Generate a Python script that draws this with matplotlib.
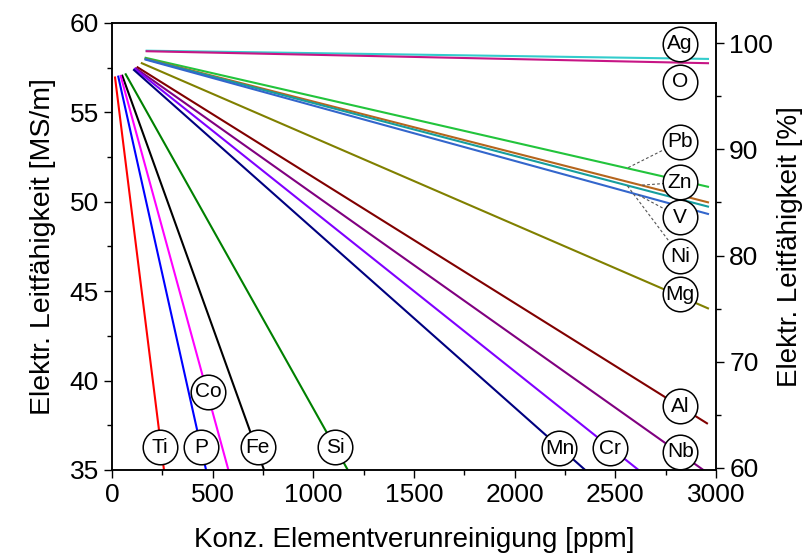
import matplotlib.pyplot as plt
from matplotlib.ticker import MultipleLocator

plt.rcParams['font.family'] = ['Liberation Sans', 'DejaVu Sans']

# Element data: start point (ppm, MS/m) and end point of each line
elements = ['Ag', 'O', 'Pb', 'Zn', 'Ni', 'V', 'Mg', 'Al', 'Nb', 'Cr', 'Mn', 'Si', 'Fe', 'Co', 'P', 'Ti']
colors = ['#33CCCC', '#C71585', '#22C43C', '#B5651D', '#169E9E', '#3366CC', '#808000', '#800000',
          '#800080', '#8000FF', '#000080', '#008000', '#000000', '#FF00FF', '#0000FF', '#FF0000']
start_ppm = [172, 172, 167, 167, 167, 167, 148, 127, 119, 114, 109, 68, 51, 43, 31, 15]
start_ms = [58.45, 58.42, 58.05, 58.00, 57.98, 57.95, 57.75, 57.52, 57.46, 57.43, 57.37, 57.13,
            57.05, 57.04, 57.00, 56.95]
end_ppm = [2960, 2960, 2960, 2960, 2960, 2960, 2960, 2955, 2937, 2615, 2350, 1171, 755, 578, 467, 258]
end_ms = [57.99, 57.75, 50.84, 49.97, 49.73, 49.32, 44.04, 37.61, 35.0, 35.0, 35.0, 35.0,
          35.0, 35.0, 35.0, 35.0]

# Circled labels
label_ppm = [2820, 2820, 2820, 2820, 2822, 2822, 2822, 2822, 2822, 2471, 2222, 1109, 724, 478, 442, 238]
label_ms = [58.83, 56.72, 53.36, 51.09, 46.96, 49.13, 44.83, 38.57, 36.02, 36.21, 36.21, 36.27,
            36.27, 39.38, 36.27, 36.27]

# Leader lines for the crowded group: element -> ppm where the leader meets its line
leaders = {'Pb': 2558, 'Zn': 2628, 'V': 2610, 'Ni': 2558}

fig = plt.figure(figsize=(8.1, 5.55), dpi=100)
ax = fig.add_axes([0.1383, 0.1532, 0.7457, 0.8054])

for name, c, x0, y0, x1, y1 in zip(elements, colors, start_ppm, start_ms, end_ppm, end_ms):
    ax.plot([x0, x1], [y0, y1], color=c, lw=1.5, zorder=2)

for name, x0, y0, x1, y1, lx, ly in zip(elements, start_ppm, start_ms, end_ppm, end_ms,
                                        label_ppm, label_ms):
    if name in leaders:
        px = leaders[name]
        py = y0 + (y1 - y0) * (px - x0) / (x1 - x0)
        ax.plot([lx, px], [ly, py], color='#555555', lw=0.8, ls=(0, (2.5, 2)), zorder=3)
    ax.scatter([lx], [ly], s=620, facecolor='white', edgecolor='black', linewidth=1.1, zorder=4)
    ax.text(lx, ly, name, ha='center', va='center', fontsize=15, zorder=5)

ax.set_xlim(0, 3000)
ax.set_ylim(35, 60)
ax.xaxis.set_major_locator(MultipleLocator(500))
ax.xaxis.set_minor_locator(MultipleLocator(250))
ax.yaxis.set_major_locator(MultipleLocator(5))
ax.yaxis.set_minor_locator(MultipleLocator(2.5))
ax.tick_params(which='major', direction='out', length=6, width=1, labelsize=19)
ax.tick_params(which='minor', direction='out', length=3.5, width=1)
ax.set_xlabel('Konz. Elementverunreinigung [ppm]', fontsize=20, labelpad=14)
ax.set_ylabel('Elektr. Leitfähigkeit [MS/m]', fontsize=20.5, labelpad=10)

# Right axis in percent of conductivity
ax2 = ax.twinx()
ax2.set_ylim(59.8, 101.9)
ax2.yaxis.set_major_locator(MultipleLocator(10))
ax2.yaxis.set_minor_locator(MultipleLocator(5))
ax2.tick_params(which='major', direction='out', length=6, width=1, labelsize=19)
ax2.tick_params(which='minor', direction='out', length=3.5, width=1)
ax2.set_ylabel('Elektr. Leitfähigkeit [%]', fontsize=20, labelpad=3)

for a in (ax, ax2):
    for s in a.spines.values():
        s.set_linewidth(1.1)

fig.savefig('out.png', dpi=100)
